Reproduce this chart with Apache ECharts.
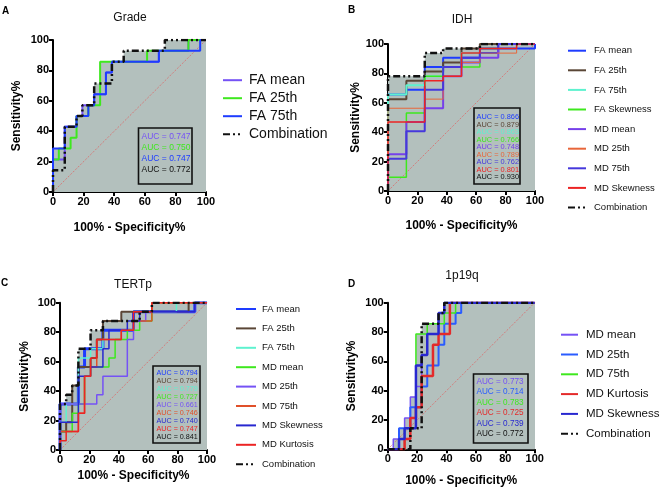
<!DOCTYPE html>
<html><head><meta charset="utf-8">
<script src="https://cdn.jsdelivr.net/npm/echarts/dist/echarts.min.js"></script>
<style>html,body{margin:0;padding:0;background:#fff}#c{width:661px;height:489px}</style>
</head><body><div id="c"></div>
<script>
// ---------- DATA (x = 100% - Specificity%, y = Sensitivity%) ----------
const axisTicks = [0, 20, 40, 60, 80, 100];
const diagonal = [[0, 0], [100, 100]];

// Panel A: Grade
const gradeTitle = 'Grade';
const gradeNames = ['FA mean', 'FA 25th', 'FA 75th', 'Combination'];
const gradeFAmean = [[0,0],[0,21.4],[7.7,42.9],[15.4,50],[19.2,57.1],[26.9,64.3],[34.6,78.6],[38.5,85.7],[69.2,92.9],[88.5,100],[100,100]];
const gradeFA25 = [[0,0],[0,21.4],[3.8,28.6],[11.5,35.7],[15.4,50],[23.1,57.1],[30.8,85.7],[61.5,92.9],[88.5,100],[100,100]];
const gradeFA75 = [[0,0],[0,28.6],[7.7,42.9],[15.4,50],[23.1,57.1],[26.9,64.3],[34.6,78.6],[38.5,85.7],[69.2,92.9],[96.2,100],[100,100]];
const gradeComb = [[0,0],[0,14.3],[7.7,42.9],[15.4,50],[19.2,57.1],[26.9,71.4],[38.5,85.7],[46.2,92.9],[73.1,100],[100,100]];
const gradeAUC = ['0.747', '0.750', '0.747', '0.772'];

// Panel B: IDH
const idhTitle = 'IDH';
const idhNames = ['FA mean', 'FA 25th', 'FA 75th', 'FA Skewness', 'MD mean', 'MD 25th', 'MD 75th', 'MD Skewness', 'Combination'];
const idhFAmean = [[0,0],[0,65.6],[12.5,68.8],[25,84.4],[37.5,90.6],[62.5,93.8],[75,96.9],[100,100]];
const idhFA25 = [[0,0],[0,62.5],[12.5,75],[25,81.3],[37.5,87.5],[50,96.9],[62.5,100],[100,100]];
const idhFA75 = [[0,0],[0,65.6],[12.5,71.9],[25,78.1],[37.5,84.4],[50,93.8],[62.5,96.9],[75,100],[100,100]];
const idhFAskew = [[0,0],[0,9.4],[12.5,53.1],[25,78.1],[37.5,84.4],[62.5,96.9],[75,100],[100,100]];
const idhMDmean = [[0,0],[0,25],[12.5,46.9],[25,56.3],[37.5,78.1],[50,87.5],[62.5,90.6],[75,100],[100,100]];
const idhMD25 = [[0,0],[0,56.3],[25,62.5],[37.5,78.1],[50,87.5],[62.5,93.8],[87.5,100],[100,100]];
const idhMD75 = [[0,0],[0,21.9],[12.5,40.6],[25,68.8],[37.5,84.4],[50,90.6],[62.5,96.9],[75,100],[100,100]];
const idhMDskew = [[0,0],[0,46.9],[25,75],[37.5,78.1],[50,93.8],[62.5,96.9],[87.5,100],[100,100]];
const idhComb = [[0,0],[0,78.1],[25,93.8],[37.5,96.9],[62.5,100],[100,100]];
const idhAUC = ['0.866', '0.879', '0.863', '0.766', '0.748', '0.789', '0.762', '0.801', '0.930'];

// Panel C: TERTp
const tertTitle = 'TERTp';
const tertNames = ['FA mean', 'FA 25th', 'FA 75th', 'MD mean', 'MD 25th', 'MD 75th', 'MD Skewness', 'MD Kurtosis', 'Combination'];
const tertFAmean = [[0,0],[0,31.3],[12.5,56.3],[16.7,68.8],[29.2,81.3],[50,93.8],[91.7,100],[100,100]];
const tertFA25 = [[0,0],[0,12.5],[4.2,18.8],[8.3,43.8],[12.5,56.3],[20.8,62.5],[25,75],[29.2,87.5],[41.7,93.8],[87.5,100],[100,100]];
const tertFA75 = [[0,0],[0,18.8],[4.2,31.3],[12.5,62.5],[20.8,68.8],[29.2,75],[41.7,81.3],[50,87.5],[62.5,93.8],[79.2,100],[100,100]];
const tertMDmean = [[0,0],[0,12.5],[8.3,25],[12.5,31.3],[16.7,50],[20.8,56.3],[33.3,62.5],[37.5,75],[45.8,81.3],[54.2,87.5],[62.5,100],[100,100]];
const tertMD25 = [[0,0],[0,31.3],[25,37.5],[29.2,50],[45.8,75],[50,87.5],[58.3,93.8],[91.7,100],[100,100]];
const tertMD75 = [[0,0],[0,12.5],[12.5,25],[16.7,50],[20.8,56.3],[25,75],[41.7,81.3],[50,87.5],[62.5,100],[100,100]];
const tertMDskew = [[0,0],[0,18.8],[12.5,50],[20.8,56.3],[29.2,68.8],[33.3,81.3],[45.8,87.5],[54.2,93.8],[91.7,100],[100,100]];
const tertMDkurt = [[0,0],[0,6.3],[4.2,12.5],[12.5,25],[16.7,50],[20.8,62.5],[25,75],[41.7,81.3],[50,93.8],[62.5,100],[100,100]];
const tertComb = [[0,0],[0,31.3],[4.2,37.5],[8.3,43.8],[12.5,68.8],[20.8,81.3],[29.2,87.5],[54.2,93.8],[62.5,100],[100,100]];
const tertAUC = ['0.794', '0.794', '0.779', '0.727', '0.661', '0.746', '0.740', '0.747', '0.841'];

// Panel D: 1p19q
const codelTitle = '1p19q';
const codelNames = ['MD mean', 'MD 25th', 'MD 75th', 'MD Kurtosis', 'MD Skewness', 'Combination'];
const codelMDmean = [[0,0],[3.8,7.1],[11.5,21.4],[15.4,35.7],[19.2,42.9],[23.1,64.3],[26.9,78.6],[34.6,92.9],[38.5,100],[100,100]];
const codelMD25 = [[0,0],[7.7,14.3],[15.4,28.6],[23.1,42.9],[26.9,57.1],[34.6,71.4],[38.5,85.7],[46.2,92.9],[50,100],[100,100]];
const codelMD75 = [[0,0],[11.5,14.3],[19.2,78.6],[26.9,85.7],[38.5,92.9],[46.2,100],[100,100]];
const codelMDkurt = [[0,0],[11.5,7.1],[15.4,21.4],[19.2,28.6],[23.1,50],[30.8,71.4],[34.6,78.6],[42.3,100],[100,100]];
const codelMDskew = [[0,0],[7.7,7.1],[11.5,14.3],[19.2,57.1],[23.1,64.3],[26.9,78.6],[34.6,92.9],[38.5,100],[100,100]];
const codelComb = [[0,0],[15.4,14.3],[23.1,21.4],[23.1,85.7],[34.6,92.9],[38.5,100],[100,100]];
const codelAUC = ['0.773', '0.714', '0.783', '0.725', '0.739', '0.772'];

// ---------- STYLE / LAYOUT ----------
const FONT = 'Liberation Sans, Arial, Helvetica, sans-serif';
const GRAY = '#b3c0bd';
const DASHDOT = [7, 3, 2, 3, 2, 3];
const C = {
  purple: '#7552f5', green: '#3ee81e', blue: '#1e3cff', black: '#111111',
  brown: '#5a4636', aqua: '#5ef2cf', violet: '#7640ea', orange: '#e8663a',
  indigo: '#4638dc', red: '#ec2424', dblue: '#2828d0', mblue: '#2a5cff'
};

const panels = [
  {
    id: 'A', title: gradeTitle, names: gradeNames, auc: gradeAUC,
    curves: [gradeFAmean, gradeFA25, gradeFA75, gradeComb],
    colors: [C.purple, C.green, C.blue, C.black],
    widths: [2, 2, 2, 2.5],
    grid: {left: 53, top: 40, width: 153, height: 152},
    xGap: 30, yGap: 30, titleXY: [130, 18], letterXY: [2, 6],
    legend: {left: 222, top: 73.2, itemWidth: 19, itemGap: 4, fontSize: 14, pad: 2},
    box: [138.5, 128, 53.5, 56], boxFont: 8.5, row0: 137, rowGap: 10.8, textX: 141.5
  },
  {
    id: 'B', title: idhTitle, names: idhNames, auc: idhAUC,
    curves: [idhFAmean, idhFA25, idhFA75, idhFAskew, idhMDmean, idhMD25, idhMD75, idhMDskew, idhComb],
    colors: [C.blue, C.brown, C.aqua, C.green, C.violet, C.orange, C.indigo, C.red, C.black],
    widths: [2, 2, 2, 1.5, 2, 1, 2, 1.5, 2.5],
    grid: {left: 388, top: 44, width: 147, height: 147},
    xGap: 29, yGap: 26, titleXY: [462, 20], letterXY: [348, 5],
    legend: {left: 567, top: 45.1, itemWidth: 18, itemGap: 8.4, fontSize: 9.5, pad: 3},
    box: [474, 108, 46, 76], boxFont: 7.4, row0: 117.3, rowGap: 7.5, textX: 476.5
  },
  {
    id: 'C', title: tertTitle, names: tertNames, auc: tertAUC,
    curves: [tertFAmean, tertFA25, tertFA75, tertMDmean, tertMD25, tertMD75, tertMDskew, tertMDkurt, tertComb],
    colors: [C.blue, C.brown, C.aqua, C.green, C.purple, '#e0502a', C.dblue, C.red, C.black],
    widths: [3, 2, 1.5, 1.5, 1.5, 1.5, 1.5, 1.5, 2.5],
    grid: {left: 60, top: 302.7, width: 147, height: 147.3},
    xGap: 20, yGap: 29, titleXY: [133, 285], letterXY: [1, 278],
    legend: {left: 235, top: 303.4, itemWidth: 20, itemGap: 8.2, fontSize: 9.5, pad: 1},
    box: [153, 366, 47, 77], boxFont: 7.2, row0: 372.7, rowGap: 8, textX: 156.5
  },
  {
    id: 'D', title: codelTitle, names: codelNames, auc: codelAUC,
    curves: [codelMDmean, codelMD25, codelMD75, codelMDkurt, codelMDskew, codelComb],
    colors: [C.purple, C.mblue, C.green, '#e42a2a', C.dblue, C.black],
    widths: [1.5, 2, 1.5, 2.5, 2.5, 2.5],
    grid: {left: 387.7, top: 302.7, width: 147, height: 146.6},
    xGap: 25, yGap: 30, titleXY: [462, 276], letterXY: [348, 279],
    legend: {left: 560, top: 328.7, itemWidth: 17, itemGap: 7.8, fontSize: 11.5, pad: 3},
    box: [473.5, 374, 54.5, 69], boxFont: 8.2, row0: 381.7, rowGap: 10.5, textX: 476.5
  }
];

// ---------- BUILD ----------
const grids = [], xAxes = [], yAxes = [], series = [], legends = [], graphics = [];
const axisCommon = {
  type: 'value', min: axisTicks[0], max: axisTicks[axisTicks.length - 1], interval: axisTicks[1] - axisTicks[0],
  axisLine: {show: true, onZero: false, lineStyle: {color: '#000', width: 2}},
  axisTick: {show: true, length: 4, lineStyle: {color: '#000', width: 2}},
  axisLabel: {color: '#000', fontWeight: 'bold', fontSize: 11, fontFamily: FONT, margin: 4},
  splitLine: {show: false},
  nameLocation: 'middle',
  nameTextStyle: {color: '#000', fontWeight: 'bold', fontSize: 12, fontFamily: FONT}
};

panels.forEach((p, i) => {
  grids.push(Object.assign({containLabel: false}, p.grid));
  xAxes.push(Object.assign({}, axisCommon, {gridIndex: i, name: '100% - Specificity%', nameGap: p.xGap}));
  yAxes.push(Object.assign({}, axisCommon, {gridIndex: i, name: 'Sensitivity%', nameGap: p.yGap}));

  // gray area under each curve
  p.curves.forEach((d, k) => {
    series.push({
      type: 'line', name: 'fill-' + p.id + k, xAxisIndex: i, yAxisIndex: i,
      data: d, step: 'end', symbol: 'none', silent: true, z: 1,
      lineStyle: {width: 0, opacity: 0}, areaStyle: {color: GRAY, opacity: 1}
    });
  });
  // chance diagonal
  series.push({
    type: 'line', name: 'diag-' + p.id, xAxisIndex: i, yAxisIndex: i, data: diagonal,
    symbol: 'none', silent: true, z: 2,
    lineStyle: {color: '#dc6a6a', width: 0.8, type: [2, 1.5]}
  });
  // ROC curves
  p.curves.forEach((d, k) => {
    const isComb = p.names[k] === 'Combination';
    series.push({
      type: 'line', name: p.id + '|' + p.names[k], xAxisIndex: i, yAxisIndex: i,
      data: d, step: 'end', symbol: 'none', z: 3,
      lineStyle: {color: p.colors[k], width: p.widths[k], type: isComb ? DASHDOT : 'solid'},
      itemStyle: {color: p.colors[k]}
    });
  });

  legends.push({
    orient: 'vertical', left: p.legend.left, top: p.legend.top, padding: 0,
    itemWidth: p.legend.itemWidth, itemHeight: 14, itemGap: p.legend.itemGap,
    selectedMode: false,
    itemStyle: {opacity: 0},
    data: p.names.map(n => p.id + '|' + n),
    formatter: n => n.split('|')[1],
    textStyle: {color: '#111', fontSize: p.legend.fontSize, fontFamily: FONT, padding: [0, 0, 0, p.legend.pad]}
  });

  // title, panel letter
  graphics.push({
    type: 'text', x: p.titleXY[0], y: p.titleXY[1], z: 100,
    style: {text: p.title, fill: '#111', fontSize: 12, fontFamily: FONT, align: 'center', verticalAlign: 'middle'}
  });
  graphics.push({
    type: 'text', x: p.letterXY[0], y: p.letterXY[1], z: 100,
    style: {text: p.id, fill: '#000', fontSize: 10, fontWeight: 'bold', fontFamily: FONT, align: 'left', verticalAlign: 'top'}
  });
  // AUC box
  graphics.push({
    type: 'rect', z: 100,
    shape: {x: p.box[0], y: p.box[1], width: p.box[2], height: p.box[3]},
    style: {fill: GRAY, stroke: '#111', lineWidth: 1.6}
  });
  p.auc.forEach((v, k) => {
    graphics.push({
      type: 'text', x: p.textX, y: p.row0 + k * p.rowGap, z: 101,
      style: {text: 'AUC = ' + v, fill: p.colors[k], fontSize: p.boxFont, fontFamily: FONT, align: 'left', verticalAlign: 'middle'}
    });
  });
});

const chart = echarts.init(document.getElementById('c'), null, {renderer: 'canvas'});
chart.setOption({
  animation: false,
  backgroundColor: '#ffffff',
  grid: grids, xAxis: xAxes, yAxis: yAxes,
  legend: legends, series: series, graphic: graphics
});
</script>
</body></html>
